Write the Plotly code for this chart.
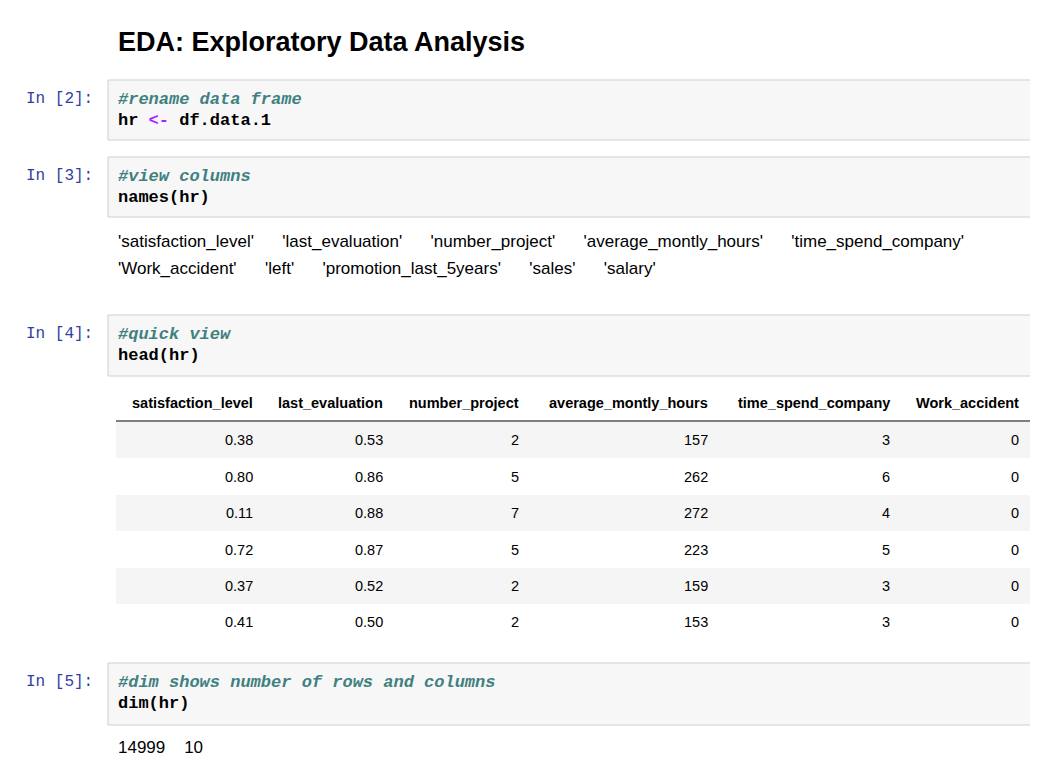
import plotly.graph_objects as go

title = "EDA: Exploratory Data Analysis"
col_names = ["satisfaction_level", "last_evaluation", "number_project",
             "average_montly_hours", "time_spend_company", "Work_accident"]
satisfaction_level = ["0.38", "0.80", "0.11", "0.72", "0.37", "0.41"]
last_evaluation = ["0.53", "0.86", "0.88", "0.87", "0.52", "0.50"]
number_project = [2, 5, 7, 5, 2, 2]
average_montly_hours = [157, 262, 272, 223, 159, 153]
time_spend_company = [3, 6, 4, 5, 3, 3]
work_accident = [0, 0, 0, 0, 0, 0]
names_line1 = ["'satisfaction_level'", "'last_evaluation'", "'number_project'",
               "'average_montly_hours'", "'time_spend_company'"]
names_line2 = ["'Work_accident'", "'left'", "'promotion_last_5years'", "'sales'", "'salary'"]
dims = [14999, 10]

W, H = 1022, 766
X0, X1, Y0, Y1 = 8, 1030, 8, 774
fig = go.Figure()
shapes, ann = [], []
SANS = "Liberation Sans, Arial, sans-serif"
MONO = "Liberation Mono, monospace"

def text(x, y, s, size=16, font=SANS, color="#000", xanchor="left"):
    ann.append(dict(x=x, y=y, xref="x", yref="y", text=s, showarrow=False,
                    xanchor=xanchor, yanchor="middle", font=dict(family=font, size=size, color=color)))

text(116, 42, "<b>%s</b>" % title, size=27)

def cell(n, y0, y1, lines):
    shapes.append(dict(type="rect", x0=108, x1=X1 + 5, y0=y0, y1=y1, xref="x", yref="y",
                       fillcolor="#f7f7f7", line=dict(color="#cfcfcf", width=1), layer="below"))
    text(24, y0 + 19, "In [%d]:" % n, size=16, font=MONO, color="#303F9F")
    for i, l in enumerate(lines):
        text(116, y0 + 19 + i * 21, l, size=17, font=MONO)

def comment(s):
    return "<b><i><span style='color:#408080'>%s</span></i></b>" % s

cell(2, 80, 140, [comment("#rename data frame"),
                  "<b>hr <span style='color:#AA22FF'>&lt;-</span> df.data.1</b>"])
cell(3, 157, 217, [comment("#view columns"), "<b>names(hr)</b>"])
sp = "&nbsp;" * 6
text(116, 241, sp.join(names_line1), size=17)
text(116, 268, sp.join(names_line2), size=17)
cell(4, 315, 376, [comment("#quick view"), "<b>head(hr)</b>"])

rights = [255, 385, 521, 710, 892, 1021]
row_y = [440, 477, 513, 550, 586, 622]
cols = [satisfaction_level, last_evaluation, number_project,
        average_montly_hours, time_spend_company, work_accident]
for i, y in enumerate(row_y):
    if i % 2 == 0:
        shapes.append(dict(type="rect", x0=116, x1=X1 + 5, y0=y - 18, y1=y + 18, xref="x", yref="y",
                           fillcolor="#f5f5f5", line=dict(width=0), layer="below"))
shapes.append(dict(type="line", x0=116, x1=X1 + 5, y0=421, y1=421, xref="x", yref="y",
                   line=dict(color="#000", width=1)))
for r, name, vals in zip(rights, col_names, cols):
    text(r, 403, "<b>%s</b>" % name, size=14.5, xanchor="right")
    for y, v in zip(row_y, vals):
        text(r, y, str(v), size=14.5, xanchor="right")

cell(5, 663, 725, [comment("#dim shows number of rows and columns"), "<b>dim(hr)</b>"])
text(116, 747, ("&nbsp;" * 4).join(str(d) for d in dims), size=17)

fig.update_layout(width=W, height=H, margin=dict(l=0, r=0, t=0, b=0),
                  plot_bgcolor="white", paper_bgcolor="white", shapes=shapes, annotations=ann,
                  xaxis=dict(range=[X0, X1], visible=False, fixedrange=True),
                  yaxis=dict(range=[Y1, Y0], visible=False, fixedrange=True), showlegend=False)
fig.write_html("out.html")
